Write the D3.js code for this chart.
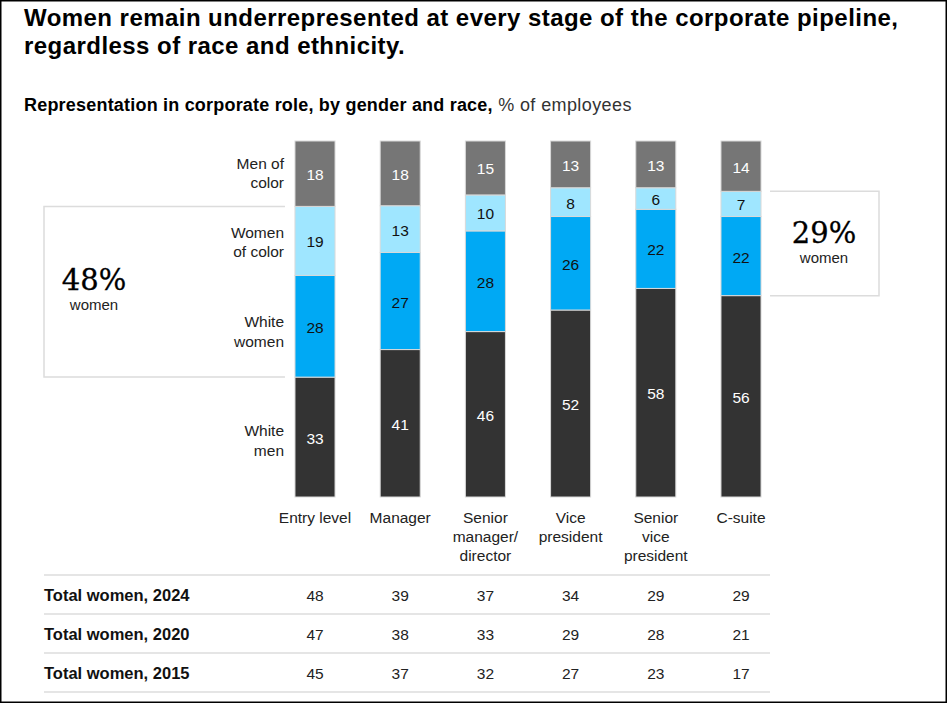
<!DOCTYPE html>
<html>
<head>
<meta charset="utf-8">
<script src="https://cdn.jsdelivr.net/npm/d3@7"></script>
<style>
  html, body { margin: 0; padding: 0; background: #fff; }
  svg { display: block; }
  text { font-family: "Liberation Sans", Arial, sans-serif; }
  text.serif { font-family: "DejaVu Serif", "Liberation Serif", "Noto Serif", serif; }
</style>
</head>
<body>
<svg id="chart" width="948" height="704"></svg>
<script>
// ---- Data ----
const categories = ["Entry level", "Manager", "Senior manager/director", "Vice president", "Senior vice president", "C-suite"];
const categoryLines = [["Entry level"], ["Manager"], ["Senior", "manager/", "director"], ["Vice", "president"], ["Senior", "vice", "president"], ["C-suite"]];
const seriesKeys = ["whiteMen", "whiteWomen", "womenOfColor", "menOfColor"];
const seriesLabels = [["White", "men"], ["White", "women"], ["Women", "of color"], ["Men of", "color"]];
const whiteMen     = [33, 41, 46, 52, 58, 56];
const whiteWomen   = [28, 27, 28, 26, 22, 22];
const womenOfColor = [19, 13, 10, 8, 6, 7];
const menOfColor   = [18, 18, 15, 13, 13, 14];
const tableRows = ["Total women, 2024", "Total women, 2020", "Total women, 2015"];
const total2024 = [48, 39, 37, 34, 29, 29];
const total2020 = [47, 38, 33, 29, 28, 21];
const total2015 = [45, 37, 32, 27, 23, 17];
const calloutLeft = "48%";
const calloutRight = "29%";

const colors = { whiteMen: "#333333", whiteWomen: "#00a9f4", womenOfColor: "#9fe6ff", menOfColor: "#767676" };
const textColors = { whiteMen: "#ffffff", whiteWomen: "#111111", womenOfColor: "#111111", menOfColor: "#ffffff" };
const labelShift = [4, 6, 2, 0]; // small vertical nudges for the series labels

const svg = d3.select("#chart");

// Border
svg.append("rect").attr("x", 0.75).attr("y", 0.75).attr("width", 945.5).attr("height", 701.5)
  .attr("fill", "none").attr("stroke", "#000").attr("stroke-width", 1.5);

// Title
const title = svg.append("text").attr("x", 24).attr("y", 26)
  .attr("font-size", 24).attr("font-weight", "bold").attr("fill", "#000")
  .attr("letter-spacing", 0.45);
title.append("tspan").attr("x", 24).attr("dy", 0).text("Women remain underrepresented at every stage of the corporate pipeline,");
title.append("tspan").attr("x", 24).attr("dy", 28).text("regardless of race and ethnicity.");

// Subtitle
const sub = svg.append("text").attr("x", 24).attr("y", 111).attr("font-size", 18).attr("fill", "#000");
sub.append("tspan").attr("font-weight", "bold").attr("letter-spacing", 0.2).text("Representation in corporate role, by gender and race,");
sub.append("tspan").attr("fill", "#333").attr("letter-spacing", 0.4).text(" % of employees");

// Data table for stacking
const table = categories.map((c, i) => ({
  category: c,
  whiteMen: whiteMen[i], whiteWomen: whiteWomen[i], womenOfColor: womenOfColor[i], menOfColor: menOfColor[i]
}));
const stacked = d3.stack().keys(seriesKeys).offset(d3.stackOffsetExpand)(table);

const x = d3.scaleBand().domain(categories).range([272.4, 783.6]).paddingInner(0.53).paddingOuter(0.265);
const y = d3.scaleLinear().domain([0, 1]).range([497, 141]);

// Callout boxes (behind bars)
const firstCat = categories[0];
const lastCat = categories[categories.length - 1];
const wwFirst = stacked[1][0], wocFirst = stacked[2][0];
const leftTop = y(wocFirst[1]), leftBot = y(wwFirst[0]);
const boxStroke = "#dcdcdc";
svg.append("path")
  .attr("d", `M${x(firstCat) - 10},${leftTop} H44 V${leftBot} H${x(firstCat) - 10}`)
  .attr("fill", "none").attr("stroke", boxStroke).attr("stroke-width", 1.5);
const wwLast = stacked[1][5], wocLast = stacked[2][5];
const rightTop = y(wocLast[1]), rightBot = y(wwLast[0]);
svg.append("path")
  .attr("d", `M${x(lastCat) + x.bandwidth() + 9},${rightTop} H879 V${rightBot} H${x(lastCat) + x.bandwidth() + 9}`)
  .attr("fill", "none").attr("stroke", boxStroke).attr("stroke-width", 1.5);

// Callout text
const lc = (leftTop + leftBot) / 2;
svg.append("text").attr("class", "serif").attr("x", 94).attr("y", lc - 2).attr("text-anchor", "middle")
  .attr("font-size", 29).attr("fill", "#000").attr("stroke", "#000").attr("stroke-width", 0.3)
  .text(calloutLeft);
svg.append("text").attr("x", 94).attr("y", lc + 18).attr("text-anchor", "middle")
  .attr("font-size", 15).attr("fill", "#222").text("women");
const rc = (rightTop + rightBot) / 2;
svg.append("text").attr("class", "serif").attr("x", 824).attr("y", rc - 0.5).attr("text-anchor", "middle")
  .attr("font-size", 29).attr("fill", "#000").attr("stroke", "#000").attr("stroke-width", 0.3)
  .text(calloutRight);
svg.append("text").attr("x", 824).attr("y", rc + 20).attr("text-anchor", "middle")
  .attr("font-size", 15).attr("fill", "#222").text("women");

// Bars
const groups = svg.append("g").selectAll("g").data(stacked).join("g")
  .attr("fill", d => colors[d.key]);
groups.selectAll("rect").data(d => d.map(v => Object.assign(v, { key: d.key }))).join("rect")
  .attr("x", d => x(d.data.category))
  .attr("y", d => y(d[1]))
  .attr("width", x.bandwidth())
  .attr("height", d => y(d[0]) - y(d[1]))
  .attr("stroke", "#d9d9d9").attr("stroke-width", 1);

// Bar value labels
groups.selectAll("text").data(d => d).join("text")
  .attr("x", d => x(d.data.category) + x.bandwidth() / 2)
  .attr("y", d => (y(d[0]) + y(d[1])) / 2 + 6.5)
  .attr("text-anchor", "middle").attr("font-size", 15.5)
  .attr("fill", d => textColors[d.key])
  .text(d => d.data[d.key]);

// Series labels left of first bar
stacked.forEach((s, i) => {
  const seg = s[0];
  const cy = (y(seg[0]) + y(seg[1])) / 2 + labelShift[i];
  const t = svg.append("text").attr("x", 284).attr("y", cy - 5).attr("text-anchor", "end")
    .attr("font-size", 15.5).attr("fill", "#222");
  seriesLabels[i].forEach((line, j) => {
    t.append("tspan").attr("x", 284).attr("dy", j === 0 ? 0 : 19.5).text(line);
  });
});

// Category labels
categories.forEach((c, i) => {
  const t = svg.append("text").attr("x", x(c) + x.bandwidth() / 2).attr("y", 522.5)
    .attr("text-anchor", "middle").attr("font-size", 15.5).attr("fill", "#222");
  categoryLines[i].forEach((line, j) => {
    t.append("tspan").attr("x", x(c) + x.bandwidth() / 2).attr("dy", j === 0 ? 0 : 19).text(line);
  });
});

// Table
const rowVals = [total2024, total2020, total2015];
const rowY = d3.scaleBand().domain(tableRows).range([575, 692]);
svg.append("line").attr("x1", 44).attr("x2", 770).attr("y1", 575).attr("y2", 575)
  .attr("stroke", "#dcdcdc").attr("stroke-width", 1.5);
tableRows.forEach((r, ri) => {
  const y0 = rowY(r);
  svg.append("line").attr("x1", 44).attr("x2", 770).attr("y1", y0 + rowY.bandwidth()).attr("y2", y0 + rowY.bandwidth())
    .attr("stroke", "#dcdcdc").attr("stroke-width", 1.5);
  svg.append("text").attr("x", 44).attr("y", y0 + rowY.bandwidth() / 2 + 6)
    .attr("font-size", 16.5).attr("font-weight", "bold").attr("fill", "#111").text(r);
  rowVals[ri].forEach((v, ci) => {
    svg.append("text").attr("x", x(categories[ci]) + x.bandwidth() / 2).attr("y", y0 + rowY.bandwidth() / 2 + 6)
      .attr("text-anchor", "middle").attr("font-size", 15.5).attr("fill", "#222").text(v);
  });
});
</script>
</body>
</html>
